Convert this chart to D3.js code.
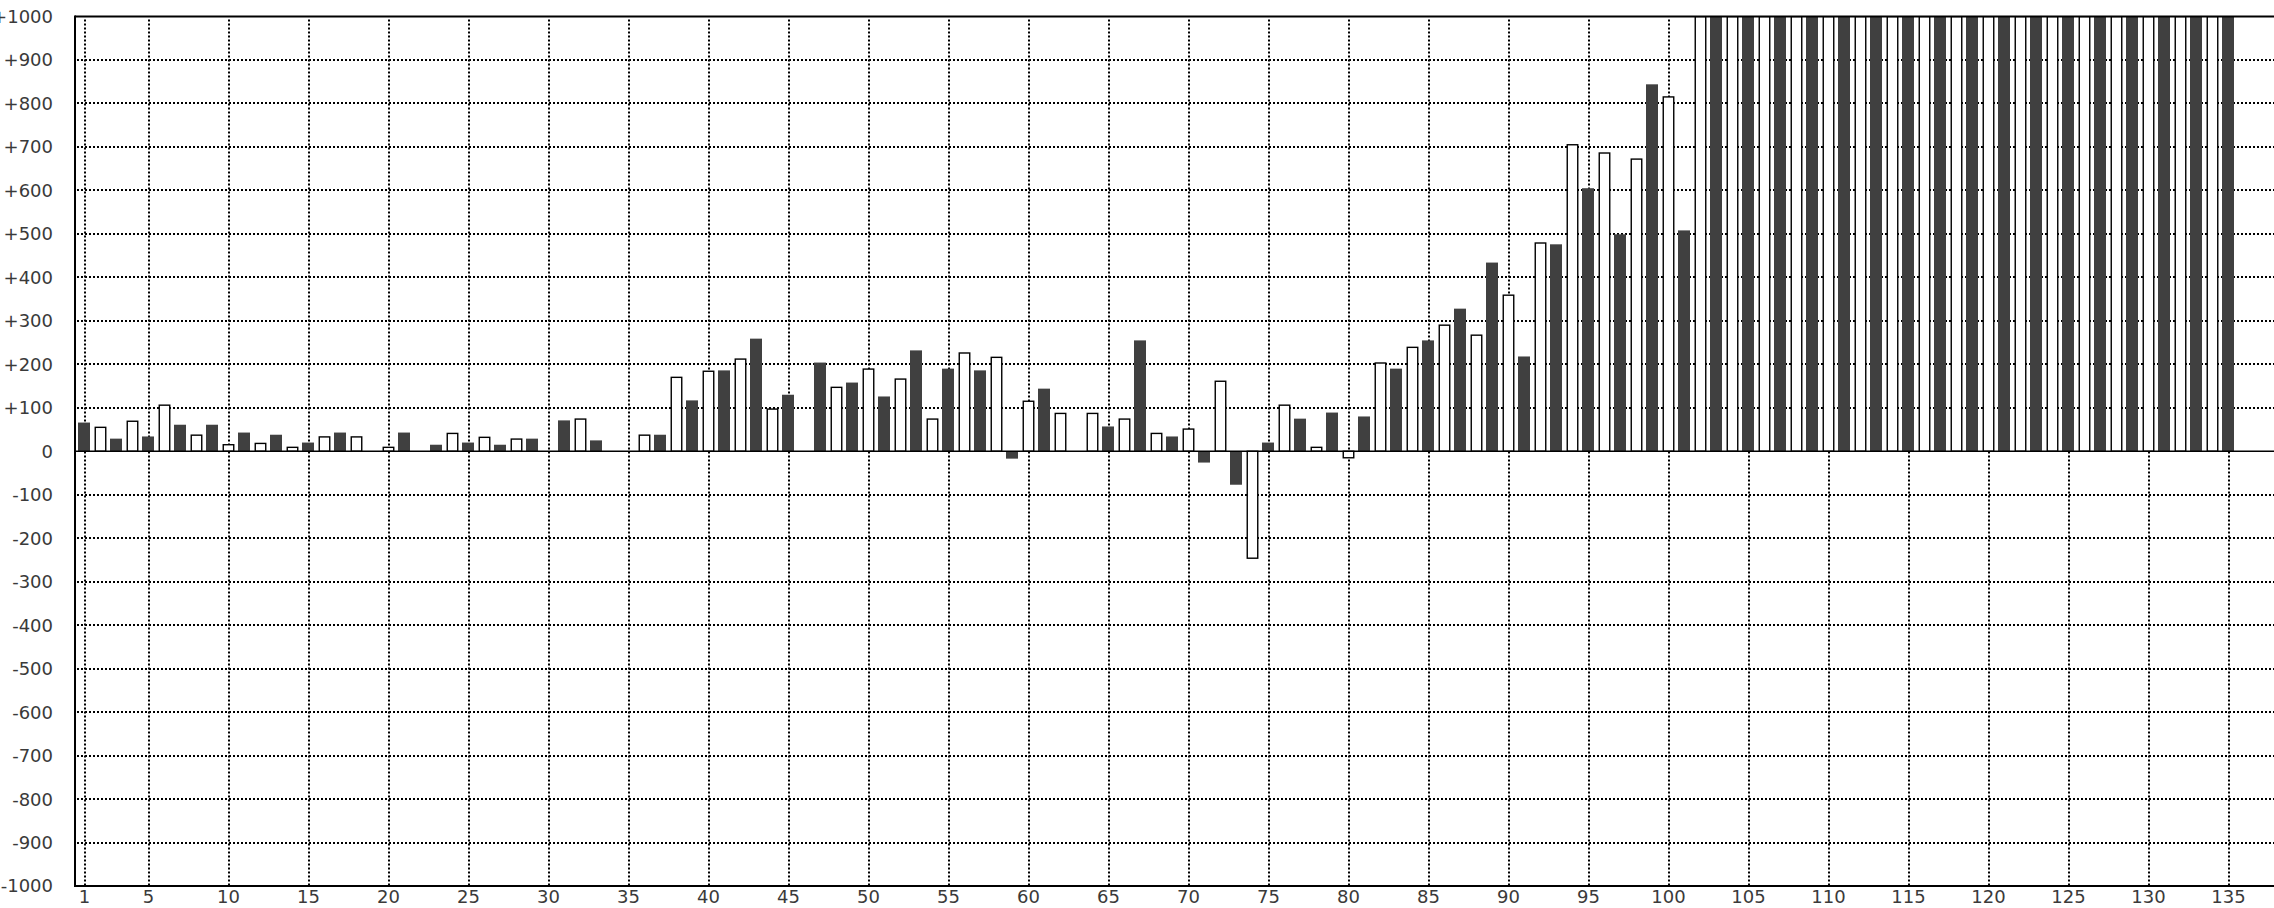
<!DOCTYPE html>
<html>
<head>
<meta charset="utf-8">
<script src="https://cdn.jsdelivr.net/npm/d3@7"></script>
<style>
  html, body { margin: 0; padding: 0; background: #fff; }
  svg { display: block; }
</style>
</head>
<body>
<svg id="chart" width="2274" height="908"></svg>
<script>
// ---- data ----
// dark bars sit at odd positions 1,3,...,135 ; white bars at even positions 2,4,...,134
const darkPositions = d3.range(1, 136, 2);
const darkValues = [66, 29, 34, 61, 61, 43, 38, 20, 43, 0, 43, 15, 20, 15, 29, 71, 25, 0, 38, 117,
  186, 259, 130, 204, 158, 126, 232, 190, 186, -17, 144, 0, 57, 255, 34, -26, -77, 20, 75, 89,
  80, 190, 255, 328, 434, 218, 476, 605, 499, 844, 508,
  1000, 1000, 1000, 1000, 1000, 1000, 1000, 1000, 1000, 1000, 1000, 1000, 1000, 1000, 1000, 1000, 1000];
const lightPositions = d3.range(2, 135, 2);
const lightValues = [55, 69, 106, 37, 15, 18, 9, 33, 33, 9, 0, 41, 32, 28, 0, 74, 0, 37, 170, 184,
  212, 97, 0, 147, 189, 166, 74, 226, 216, 115, 87, 87, 74, 41, 51, 161, -246, 106, 9, -15,
  203, 239, 290, 267, 359, 479, 705, 686, 672, 815,
  1000, 1000, 1000, 1000, 1000, 1000, 1000, 1000, 1000, 1000, 1000, 1000, 1000, 1000, 1000, 1000, 1000];
const xTickValues = [1, 5, 10, 15, 20, 25, 30, 35, 40, 45, 50, 55, 60, 65, 70, 75, 80, 85, 90, 95,
  100, 105, 110, 115, 120, 125, 130, 135];
const yTickValues = [-1000, -900, -800, -700, -600, -500, -400, -300, -200, -100, 0,
  100, 200, 300, 400, 500, 600, 700, 800, 900, 1000];

// ---- layout ----
const mLeft = 75, mTop = 16.5, mBottom = 886, mRight = 2277;
const svg = d3.select("#chart");
const x = d3.scaleLinear().domain([0.375, 138]).range([mLeft, mRight]);
const y = d3.scaleLinear().domain([-1000, 1000]).range([mBottom, mTop]);
const barW = 12;

svg.append("defs").append("clipPath").attr("id", "plotclip")
  .append("rect").attr("x", mLeft).attr("y", mTop).attr("width", mRight - mLeft).attr("height", mBottom - mTop);

// grid
const grid = svg.append("g").attr("stroke", "#000").attr("stroke-dasharray", "2,2");
grid.selectAll("line.h").data(yTickValues.filter(v => v !== 0 && Math.abs(v) !== 1000)).join("line")
  .attr("class", "h")
  .attr("x1", mLeft + 2).attr("x2", 2274)
  .attr("y1", d => Math.round(y(d))).attr("y2", d => Math.round(y(d)))
  .attr("stroke-width", 2);
grid.selectAll("line.v").data(xTickValues).join("line")
  .attr("class", "v")
  .attr("x1", d => Math.round(x(d))).attr("x2", d => Math.round(x(d)))
  .attr("y1", mTop + 3).attr("y2", mBottom)
  .attr("stroke-width", 2);

// bars
const bars = svg.append("g").attr("clip-path", "url(#plotclip)");
const darkData = darkPositions.map((p, i) => ({p, v: darkValues[i]})).filter(d => d.v !== 0);
const lightData = lightPositions.map((p, i) => ({p, v: lightValues[i]})).filter(d => d.v !== 0);

bars.selectAll("rect.dark").data(darkData).join("rect")
  .attr("class", "dark")
  .attr("x", d => x(d.p) - barW / 2 - 1)
  .attr("width", barW)
  .attr("y", d => Math.min(y(d.v), y(0)))
  .attr("height", d => Math.abs(y(d.v) - y(0)))
  .attr("fill", "#404040");

bars.selectAll("rect.light").data(lightData).join("rect")
  .attr("class", "light")
  .attr("x", d => x(d.p) - barW / 2 + 0.25)
  .attr("width", barW - 1.5)
  .attr("y", d => Math.min(y(d.v), y(0)))
  .attr("height", d => Math.abs(y(d.v) - y(0)))
  .attr("fill", "#fff")
  .attr("stroke", "#000")
  .attr("stroke-width", 1.4);

// zero line
svg.append("line")
  .attr("x1", mLeft).attr("x2", 2274)
  .attr("y1", y(0)).attr("y2", y(0))
  .attr("stroke", "#000").attr("stroke-width", 1.5);

// frame (top, left, bottom)
const frame = svg.append("g").attr("stroke", "#000").attr("stroke-width", 2);
frame.append("line").attr("x1", mLeft).attr("x2", 2274).attr("y1", mTop).attr("y2", mTop);
frame.append("line").attr("x1", mLeft).attr("x2", mLeft).attr("y1", mTop - 1).attr("y2", mBottom + 1);
frame.append("line").attr("x1", mLeft).attr("x2", 2274).attr("y1", mBottom).attr("y2", mBottom);

// y labels
const fmt = v => v > 0 ? "+" + v : String(v);
svg.append("g").selectAll("text").data(yTickValues).join("text")
  .attr("x", 53)
  .attr("y", d => y(d))
  .attr("dy", "0.36em")
  .attr("text-anchor", "end")
  .attr("font-family", "DejaVu Sans")
  .attr("font-size", 18)
  .attr("fill", "#3a3a3a")
  .text(fmt);

// x labels
svg.append("g").selectAll("text").data(xTickValues).join("text")
  .attr("x", d => x(d) - 0.5)
  .attr("y", 903)
  .attr("text-anchor", "middle")
  .attr("font-family", "DejaVu Sans")
  .attr("font-size", 18)
  .attr("fill", "#3a3a3a")
  .text(d => d);
</script>
</body>
</html>
